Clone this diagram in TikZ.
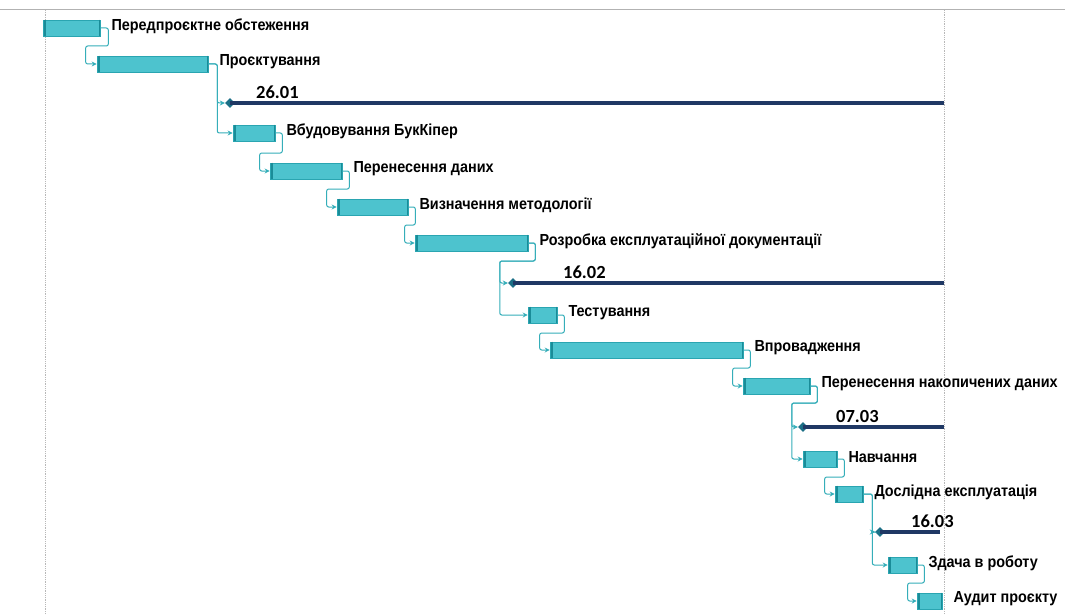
\documentclass[tikz,border=0pt]{standalone}
\usepackage{fontspec}
\setmainfont{Liberation Sans}
\newfontfamily\lblfont{Liberation Sans}[FakeStretch=0.9]
\newfontfamily\datefont{Carlito}
\usetikzlibrary{shapes.geometric,arrows.meta,calc}
\definecolor{barfill}{HTML}{4DC3CE}
\definecolor{barline}{HTML}{2AA5B1}
\definecolor{tickc}{HTML}{1A8C98}
\definecolor{linkc}{HTML}{35AEB9}
\definecolor{msline}{HTML}{1F3864}
\definecolor{msdia}{HTML}{1B6F86}
\definecolor{gridc}{HTML}{B8B8B8}
\tikzset{
  bar/.style={rectangle, fill=barfill, draw=barline, line width=0.6pt, minimum height=16pt, inner sep=0pt},
  tk/.style={draw=tickc, line width=1.5pt},
  lbl/.style={font=\lblfont\bfseries\fontsize{16}{18}\selectfont, text=black, inner sep=0pt},
  datelbl/.style={font=\datefont\bfseries\fontsize{18.5}{20}\selectfont, text=black, inner sep=0pt, anchor=south west},
  link/.style={draw=linkc, line width=1pt, rounded corners=2pt, -{Stealth[length=5pt,width=5pt]}},
  mstone/.style={diamond, fill=msdia, inner sep=0pt, minimum size=10pt},
  msbar/.style={draw=msline, line width=3.4pt},
  gridl/.style={draw=gridc, line width=0.8pt, densely dotted}
}
\newcommand\gtask[5]{%
  \node[bar, minimum width={(#3-#2)*1pt}] (#1) at ({(#2+#3)/2},#4) {};
  \draw[tk] ([xshift=2.5pt]#1.north west) -- ([xshift=2.5pt]#1.south west);
  \draw[tk] ([xshift=-1pt]#1.north east) -- ([xshift=-1pt]#1.south east);
  \node[lbl, anchor=west] (#1l) at ([xshift=11pt,yshift=2pt]#1.east) {#5};
}
\newcommand\gmile[6]{%
  \node[mstone] (#1) at (#2,#3) {};
  \coordinate (#1e) at (#4,#3);
  \draw[msbar] (#1.center) -- (#1e);
  \node[datelbl] (#1l) at (#5,{#3-4}) {#6};
}
\begin{document}
\begin{tikzpicture}[x=1pt,y=-1pt]
\useasboundingbox[fill=white] (0,0) rectangle (1065,615);
% frame / grid
\draw[draw=gray!60, line width=1pt] (0,10) -- (1065,10);
\draw[gridl] (45,10) -- (45,615);
\draw[gridl] (944,10) -- (944,615);
% tasks
\gtask{t1}{43}{100}{28}{Передпроєктне обстеження}
\gtask{t2}{97}{208}{64}{Проєктування}
\gmile{m1}{230}{103}{944}{256}{26.01}
\gtask{t4}{233}{275}{133}{Вбудовування БукКіпер}
\gtask{t5}{270}{342}{171}{Перенесення даних}
\gtask{t6}{337}{408}{207}{Визначення методології}
\gtask{t7}{415}{528}{243}{Розробка експлуатаційної документації}
\gmile{m2}{513}{283}{944}{563}{16.02}
\gtask{t9}{528}{557}{315}{Тестування}
\gtask{t10}{550}{743}{350}{Впровадження}
\gtask{t11}{743}{810}{386}{Перенесення накопичених даних}
\gmile{m3}{803}{427}{944}{836}{07.03}
\gtask{t13}{803}{837}{459}{Навчання}
\gtask{t14}{835}{863}{494}{Дослідна експлуатація}
\gmile{m4}{880}{532}{940}{911}{16.03}
\gtask{t16}{888}{917}{565}{Здача в роботу}
\gtask{t17}{917}{942}{601}{Аудит проєкту}
% links
\draw[link] (t1.east) -- ++(8,0) |- ([shift={(-11,-18)}]t2.west) |- (t2.west);
\draw[link] (t2.east) -- ++(9,0) |- (m1.west);
\draw[link] (t2.east) -- ++(9,0) |- (t4.west);
\draw[link] (t4.east) -- ++(7,0) |- ([shift={(-10,-18)}]t5.west) |- (t5.west);
\draw[link] (t5.east) -- ++(7,0) |- ([shift={(-10,-18)}]t6.west) |- (t6.west);
\draw[link] (t6.east) -- ++(7,0) |- ([shift={(-10,-18)}]t7.west) |- (t7.west);
\draw[link] (t7.east) -- ++(7,0) |- ([shift={(-8,-22)}]m2.west) |- (m2.west);
\draw[link] (t7.east) -- ++(7,0) |- ([shift={(-8,-22)}]m2.west) |- (t9.west);
\draw[link] (t9.east) -- ++(7,0) |- ([shift={(-10,-17)}]t10.west) |- (t10.west);
\draw[link] (t10.east) -- ++(7,0) |- ([shift={(-10,-18)}]t11.west) |- (t11.west);
\draw[link] (t11.east) -- ++(7,0) |- ([shift={(-6,-24)}]m3.west) |- (m3.west);
\draw[link] (t11.east) -- ++(7,0) |- ([shift={(-6,-24)}]m3.west) |- (t13.west);
\draw[link] (t13.east) -- ++(7,0) |- ([shift={(-10,-17)}]t14.west) |- (t14.west);
\draw[link] (t14.east) -- ++(9,0) |- (m4.west);
\draw[link] (t14.east) -- ++(9,0) |- (t16.west);
\draw[link] (t16.east) -- ++(7,0) |- ([shift={(-9,-18)}]t17.west) |- (t17.west);
\end{tikzpicture}
\end{document}
